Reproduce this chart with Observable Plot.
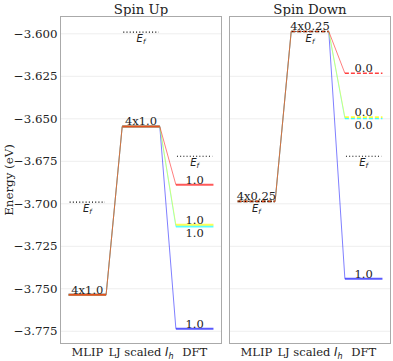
<!DOCTYPE html>
<html><head><meta charset="utf-8">
<script src="https://cdn.jsdelivr.net/npm/d3@7"></script>
<script src="https://cdn.jsdelivr.net/npm/@observablehq/plot@0.6"></script>
<style>
html,body{margin:0;padding:0;background:#fff;}
#chart svg{display:block}
</style></head><body><div id="chart"></div>
<script>
// ---- data ----
const spins = ["Spin Up", "Spin Down"];
const methods = ["MLIP", "LJ scaled Ih", "DFT"];
const states = ["blue", "cyan", "yellow", "red"];
const yTicks = [-3.775, -3.75, -3.725, -3.7, -3.675, -3.65, -3.625, -3.6];

// energies per state (blue, cyan, yellow, red)
const upMLIP = [-3.7535, -3.7535, -3.7535, -3.7535];
const upLJ = [-3.6545, -3.6545, -3.6545, -3.6545];
const upDFT = [-3.7735, -3.7134, -3.7124, -3.6888];
const downMLIP = [-3.6986, -3.6986, -3.6986, -3.6986];
const downLJ = [-3.5986, -3.5986, -3.5986, -3.5986];
const downDFT = [-3.7441, -3.6498, -3.6490, -3.6232];

// occupations per state
const occUpMLIP = [1.0, 1.0, 1.0, 1.0];
const occUpLJ = [1.0, 1.0, 1.0, 1.0];
const occUpDFT = [1.0, 1.0, 1.0, 1.0];
const occDownMLIP = [0.25, 0.25, 0.25, 0.25];
const occDownLJ = [0.25, 0.25, 0.25, 0.25];
const occDownDFT = [1.0, 0.0, 0.0, 0.0];

// Fermi levels per method
const fermiUp = [-3.699, -3.599, -3.672];
const fermiDown = [-3.6986, -3.5986, -3.672];

// ---- build tables ----
const energies = {"Spin Up": [upMLIP, upLJ, upDFT], "Spin Down": [downMLIP, downLJ, downDFT]};
const occs = {"Spin Up": [occUpMLIP, occUpLJ, occUpDFT], "Spin Down": [occDownMLIP, occDownLJ, occDownDFT]};
const fermis = {"Spin Up": fermiUp, "Spin Down": fermiDown};
const HW = 0.35;

const levels = [], links = [], labels = [], fermi = [];
for (const spin of spins) {
  states.forEach((state, k) => {
    methods.forEach((m, i) => {
      levels.push({spin, state, i, e: energies[spin][i][k], occ: occs[spin][i][k]});
      if (i < methods.length - 1) {
        links.push({spin, state, x1: i + HW, x2: i + 1 - HW, y1: energies[spin][i][k], y2: energies[spin][i + 1][k]});
      }
    });
  });
  methods.forEach((m, i) => {
    fermi.push({spin, i, e: fermis[spin][i]});
    const ls = states.map((s, k) => ({e: energies[spin][i][k], occ: occs[spin][i][k]})).sort((a, b) => b.e - a.e);
    const clusters = [];
    for (const l of ls) {
      const c = clusters.find(c => Math.abs(c.e - l.e) < 1e-4);
      if (c) c.n++; else clusters.push({e: l.e, occ: l.occ, n: 1});
    }
    const fmt = o => (o % 1 === 0 ? o.toFixed(1) : String(o));
    clusters.forEach((c, j) => {
      const prev = clusters[j - 1];
      const below = prev && (prev.e - c.e) < 0.003;
      labels.push({spin, i, e: c.e, text: (c.n > 1 ? c.n + "x" : "") + fmt(c.occ), below});
    });
  });
}

const colors = ["#00007f", "#00d4ff", "#ffe500", "#7f0000"];

const chart = Plot.plot({
  width: 393,
  height: 361,
  marginLeft: 60,
  marginRight: 2,
  marginTop: 16,
  marginBottom: 18,
  style: {fontFamily: "DejaVu Serif", fontSize: "11px", color: "#222", background: "#fff"},
  fx: {domain: spins, paddingInner: 0.047, paddingOuter: 0, axis: "top", label: null, tickSize: 0, tickPadding: 3},
  x: {domain: [-0.5, 2.5], ticks: [0, 1, 2], tickFormat: i => methods[i], tickSize: 0, tickPadding: 4, label: null},
  y: {domain: [-3.7822, -3.5898], ticks: yTicks, tickFormat: d3.format(".3f"), tickSize: 0, tickPadding: 3,
      label: "Energy (eV)", labelAnchor: "center", labelOffset: 56},
  color: {domain: states, range: colors},
  marks: [
    Plot.ruleY(yTicks, {stroke: "#000", strokeOpacity: 0.07}),
    Plot.link(links, {fx: "spin", x1: "x1", x2: "x2", y1: "y1", y2: "y2", stroke: "state", strokeWidth: 1, strokeOpacity: 0.5}),
    Plot.link(levels.filter(d => d.occ >= 1), {fx: "spin", x1: d => d.i - HW, x2: d => d.i + HW, y1: "e", y2: "e", stroke: "state", strokeWidth: 2, strokeOpacity: 0.65}),
    Plot.link(levels.filter(d => d.occ < 1), {fx: "spin", x1: d => d.i - HW, x2: d => d.i + HW, y1: "e", y2: "e", stroke: "state", strokeWidth: 1.6, strokeOpacity: 0.75, strokeDasharray: "4,2"}),
    Plot.link(fermi, {fx: "spin", x1: d => d.i - 0.33, x2: d => d.i + 0.33, y1: "e", y2: "e", stroke: "#000", strokeWidth: 1.1, strokeDasharray: "1,2.2"}),
    Plot.text(fermi, {fx: "spin", x: "i", y: "e", text: () => "Ef", lineAnchor: "top", dy: 3, fontFamily: "DejaVu Sans", fontStyle: "italic", fontSize: 10, fill: "#222"}),
    Plot.text(labels.filter(d => !d.below), {fx: "spin", x: "i", y: "e", text: "text", lineAnchor: "bottom", dy: -1, fontSize: 11.5, fill: "#222"}),
    Plot.text(labels.filter(d => d.below), {fx: "spin", x: "i", y: "e", text: "text", lineAnchor: "top", dy: 2, fontSize: 11.5, fill: "#222"}),
    Plot.frame({stroke: "#aaa"})
  ]
});
document.getElementById("chart").append(chart);

// font sizes per axis, and rich text: italic symbols with subscripts
chart.querySelectorAll("text").forEach(t => {
  const g = t.closest("[aria-label]");
  const lab = g ? g.getAttribute("aria-label") : "";
  if (lab.startsWith("fx-axis")) t.style.fontSize = "13.3px";
  else if (lab.startsWith("x-axis")) t.style.fontSize = "11.5px";
  else if (lab.startsWith("y-axis")) t.style.fontSize = "11.8px";
});
const NS = "http://www.w3.org/2000/svg";
function ts(parent, str, attrs) {
  const t = document.createElementNS(NS, "tspan");
  for (const [k, v] of Object.entries(attrs || {})) t.setAttribute(k, v);
  t.textContent = str;
  parent.appendChild(t);
}
chart.querySelectorAll("text").forEach(t => {
  if (/^[↑→]?\s*Energy \(eV\)\s*[↑→]?$/.test(t.textContent)) t.textContent = "Energy (eV)";
  if (t.textContent === "Ef") {
    t.textContent = "";
    ts(t, "E", {"font-style": "italic", "font-family": "DejaVu Sans"});
    ts(t, "f", {"font-style": "italic", "font-family": "DejaVu Sans", "font-size": "7px", dy: "2"});
  } else if (t.textContent === "LJ scaled Ih") {
    t.textContent = "";
    ts(t, "LJ scaled ");
    ts(t, "I", {"font-style": "italic", "font-family": "DejaVu Sans"});
    ts(t, "h", {"font-style": "italic", "font-family": "DejaVu Sans", "font-size": "8px", dy: "3"});
  }
});
</script></body></html>
